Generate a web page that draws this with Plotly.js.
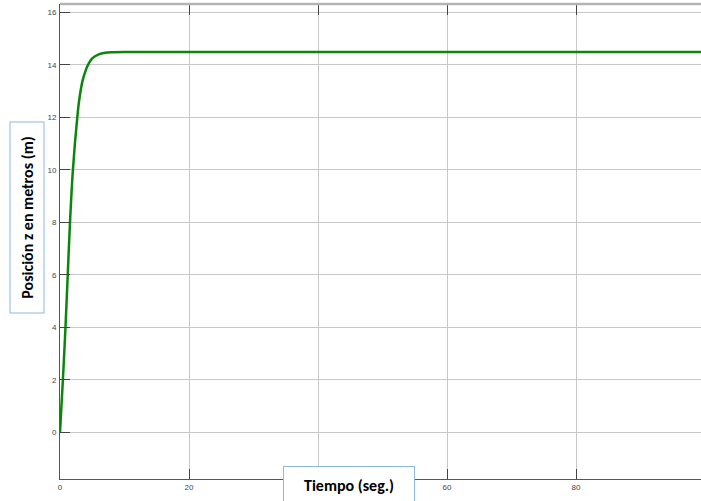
<!DOCTYPE html>
<html>
<head>
<meta charset="utf-8">
<script src="https://cdn.plot.ly/plotly-3.0.1.min.js"></script>
<style>
html,body{margin:0;padding:0;overflow:hidden;background:#fff;width:701px;height:501px;}
#chart{width:706px;height:501px;}
</style>
</head>
<body>
<div id="chart"></div>
<script>
// Time (s) and position z (m)
const tiempo = [0, 0.45, 0.85, 1.2, 1.55, 2.0, 2.68, 3.0, 3.5, 4.0, 4.34, 5.0, 6.0, 7.0, 8.0, 10.0, 20, 40, 60, 80, 100];
const posicionZ = [0, 2, 4, 6, 8, 10, 12, 12.7, 13.4, 13.8, 14.0, 14.25, 14.4, 14.46, 14.48, 14.49, 14.49, 14.49, 14.49, 14.49, 14.49];
const xTicks = [0, 20, 40, 60, 80, 100];
const xTickText = ["0", "20", "", "60", "80", "100"]; // "40" sits behind the title box in the reference
const yTicks = [0, 2, 4, 6, 8, 10, 12, 14, 16];
const xTitle = "Tiempo (seg.)";
const yTitle = "Posición z en metros (m)";

const titleFont = {family: "Carlito, 'Liberation Sans Narrow', 'DejaVu Sans Condensed', 'Liberation Sans', sans-serif", size: 16, color: "#000"};
const tickFont = {family: "'Liberation Sans', Arial, sans-serif", size: 8, color: "#444"};

const trace = {
  x: tiempo, y: posicionZ, type: "scatter", mode: "lines",
  line: {color: "rgb(10,135,10)", width: 2.5, shape: "spline", smoothing: 0.8},
  hoverinfo: "skip"
};

const layout = {
  width: 706, height: 501,
  margin: {l: 60, r: 1, t: 5, b: 22},
  paper_bgcolor: "#fff", plot_bgcolor: "#fff",
  showlegend: false,
  xaxis: {
    range: [0, 100], tickvals: xTicks, ticktext: xTickText,
    ticks: "inside", ticklen: 10, tickcolor: "#444", tickwidth: 1,
    showline: true, linecolor: "#555", linewidth: 1, mirror: "ticks",
    showgrid: true, gridcolor: "#c8c8c8", gridwidth: 1, zeroline: false,
    tickfont: tickFont, ticklabelstandoff: 0
  },
  yaxis: {
    range: [-1.78, 16.28], tickvals: yTicks, ticktext: yTicks.map(String),
    ticks: "inside", ticklen: 10, tickcolor: "#444", tickwidth: 1,
    showline: true, linecolor: "#555", linewidth: 1,
    showgrid: true, gridcolor: "#c8c8c8", gridwidth: 1, zeroline: false,
    tickfont: tickFont, ticklabelstandoff: 1
  },
  shapes: [
    {type: "line", xref: "paper", yref: "paper", x0: 0, x1: 1.01, y0: 1.002, y1: 1.002,
     line: {color: "#b4b4b4", width: 2.5}}
  ],
  annotations: [
    {text: "<b>" + yTitle + "</b>", xref: "paper", yref: "paper",
     x: (27.5 - 60) / 645, y: (479 - 218) / 474, xanchor: "center", yanchor: "middle",
     textangle: -90, showarrow: false, font: titleFont,
     width: 190, height: 33, bgcolor: "#fff", bordercolor: "#8db8e2", borderwidth: 1, borderpad: 0},
    {text: "<b>" + xTitle + "</b>", xref: "paper", yref: "paper",
     x: (349 - 60) / 645, y: (479 - 486) / 474, xanchor: "center", yanchor: "middle",
     showarrow: false, font: titleFont,
     width: 130, height: 37, bgcolor: "#fff", bordercolor: "#8db8e2", borderwidth: 1, borderpad: 0}
  ]
};

Plotly.newPlot("chart", [trace], layout, {staticPlot: true, displayModeBar: false});
</script>
</body>
</html>
